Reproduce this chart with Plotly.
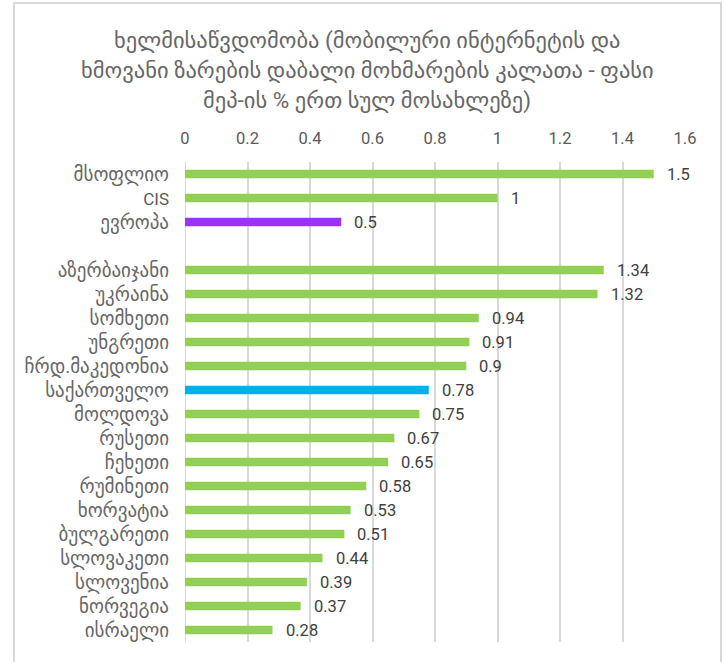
import plotly.graph_objects as go

# Mobile internet + voice low-usage basket price, % of GDP per capita
categories = [
    "მსოფლიო", "CIS", "ევროპა", " ",
    "აზერბაიჯანი", "უკრაინა", "სომხეთი", "უნგრეთი", "ჩრდ.მაკედონია",
    "საქართველო", "მოლდოვა", "რუსეთი", "ჩეხეთი", "რუმინეთი",
    "ხორვატია", "ბულგარეთი", "სლოვაკეთი", "სლოვენია", "ნორვეგია", "ისრაელი",
]
values = [
    1.5, 1.0, 0.5, None,
    1.34, 1.32, 0.94, 0.91, 0.9,
    0.78, 0.75, 0.67, 0.65, 0.58,
    0.53, 0.51, 0.44, 0.39, 0.37, 0.28,
]
value_labels = [
    "1.5", "1", "0.5", "",
    "1.34", "1.32", "0.94", "0.91", "0.9",
    "0.78", "0.75", "0.67", "0.65", "0.58",
    "0.53", "0.51", "0.44", "0.39", "0.37", "0.28",
]
tick_values = [0, 0.2, 0.4, 0.6, 0.8, 1, 1.2, 1.4, 1.6]
title_lines = [
    "ხელმისაწვდომობა (მობილური ინტერნეტის და",
    "ხმოვანი ზარების დაბალი მოხმარების კალათა - ფასი",
    "მეპ-ის % ერთ სულ მოსახლეზე)",
]

GREEN = "#92D050"
PURPLE = "#9933FF"
BLUE = "#00B0F0"
highlight = {"ევროპა": PURPLE, "საქართველო": BLUE}
colors = [highlight.get(c, GREEN) for c in categories]

TEXT = "#595959"
GEO_TEXT = "#676767"
GRID = "#D9D9D9"
FONT = "Roboto, DejaVu Sans, sans-serif"

# Latin labels get a smaller size than the Georgian ones
tick_text = [
    c if any("\u10a0" <= ch <= "\u10ff" for ch in c) or not c.strip()
    else f'<span style="font-size:17px;fill:{TEXT}">{c}</span>'
    for c in categories
]

fig = go.Figure(
    go.Bar(
        x=values,
        y=categories,
        orientation="h",
        marker=dict(color=colors, line=dict(width=0)),
        width=0.36,
        hoverinfo="skip",
    )
)

# value labels right of each bar
for c, v, t in zip(categories, values, value_labels):
    if v is None:
        continue
    fig.add_annotation(
        x=v, y=c, text=t, showarrow=False,
        xanchor="left", yanchor="middle", xshift=11,
        font=dict(family=FONT, size=16.5, color="#404040"),
    )

# three-line title, placed in pixel rows
for i, line in enumerate(title_lines):
    fig.add_annotation(
        x=(367 - 185) / 500.0, y=(642 - (40 + 30 * i)) / 480.0,
        xref="paper", yref="paper",
        text=line, showarrow=False,
        font=dict(family=FONT, size=22.5, color=GEO_TEXT),
        xanchor="center", yanchor="middle",
    )

# outer frame
fig.add_shape(
    type="rect", xref="paper", yref="paper",
    x0=(14 - 185) / 500.0, x1=(721 - 185) / 500.0,
    y0=(642 - 680) / 480.0, y1=(642 - 3) / 480.0,
    line=dict(color=GRID, width=2), fillcolor="rgba(0,0,0,0)", layer="below",
)

fig.update_layout(
    width=725, height=662,
    margin=dict(l=185, r=40, t=162, b=20, autoexpand=False),
    paper_bgcolor="white", plot_bgcolor="white",
    showlegend=False,
    font=dict(family=FONT, color=TEXT),
    xaxis=dict(
        side="top", range=[0, 1.6], tickvals=tick_values,
        tickformat="~g", automargin=False,
        showgrid=True, gridcolor=GRID, gridwidth=2,
        zeroline=False, showline=False,
        ticks="", ticklabelstandoff=14,
        tickfont=dict(family=FONT, size=16.5, color=TEXT),
    ),
    yaxis=dict(
        categoryorder="array", categoryarray=categories,
        tickmode="array", tickvals=categories, ticktext=tick_text,
        autorange="reversed", automargin=False,
        showgrid=False, zeroline=False, showline=False,
        ticks="", ticklabelstandoff=15,
        tickfont=dict(family=FONT, size=19, color=GEO_TEXT),
    ),
)

# vertical zero line of the category axis
fig.add_shape(
    type="line", xref="x", yref="paper", x0=0, x1=0, y0=0, y1=1,
    line=dict(color=GRID, width=2), layer="below",
)

fig.write_html("out.html")
